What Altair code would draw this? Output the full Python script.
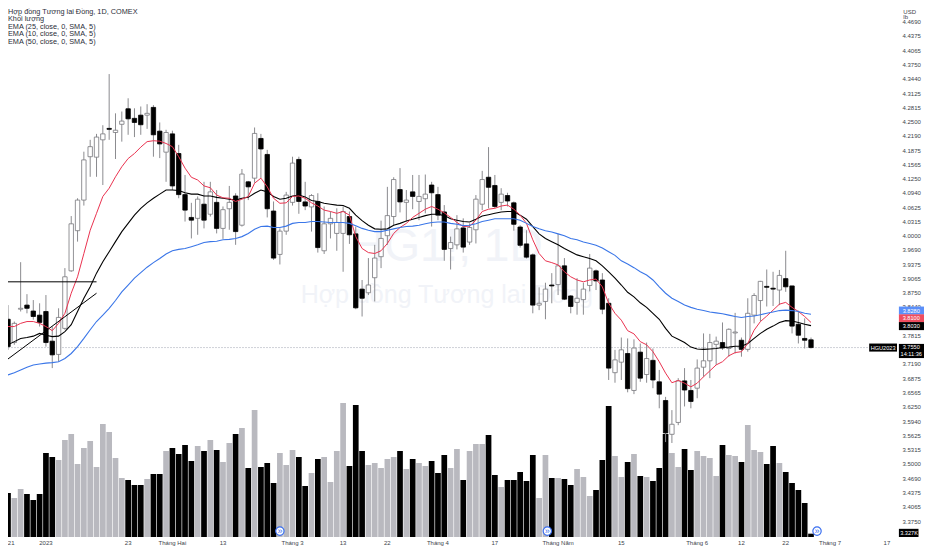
import altair as alt
import pandas as pd

# --- Candles (USD/lb), one entry per session ---
open_ = [3.806,3.817,3.766,3.839,3.848,3.835,3.826,3.834,3.769,3.740,3.797,3.923,4.011,4.078,4.173,4.172,4.210,4.235,4.226,4.244,
4.278,4.257,4.264,4.264,4.281,4.229,4.183,4.223,4.180,4.090,4.040,4.038,4.069,4.047,4.073,4.016,4.059,4.087,4.023,4.118,
4.126,4.213,4.178,4.054,3.959,4.010,4.073,4.167,4.074,4.063,4.075,3.967,4.026,4.005,4.005,4.042,4.004,3.883,3.875,3.908,
3.954,4.000,4.042,4.101,4.073,4.096,4.075,4.081,4.111,4.090,4.052,3.972,3.980,4.017,3.986,4.013,4.069,4.128,4.110,4.073,
4.088,4.072,4.019,3.982,3.958,3.848,3.856,3.892,3.893,3.934,3.868,3.854,3.860,3.891,3.923,3.903,3.852,3.700,3.723,3.742,
3.661,3.745,3.696,3.727,3.680,3.639,3.565,3.591,3.682,3.661,3.666,3.712,3.726,3.762,3.766,3.753,3.787,3.771,3.751,3.826,
3.858,3.889,3.885,3.881,3.906,3.890,3.806,3.775,3.772]
high = [3.826,3.848,3.812,3.942,3.872,3.859,3.852,3.870,3.801,3.841,3.929,4.043,4.082,4.184,4.210,4.223,4.242,4.354,4.268,4.272,
4.301,4.279,4.283,4.288,4.286,4.248,4.232,4.230,4.199,4.133,4.072,4.086,4.118,4.118,4.100,4.064,4.109,4.093,4.146,4.120,
4.237,4.223,4.188,4.075,4.016,4.096,4.173,4.173,4.118,4.091,4.093,4.064,4.053,4.060,4.064,4.053,4.020,3.903,3.951,3.980,
4.033,4.107,4.128,4.148,4.100,4.133,4.133,4.134,4.118,4.107,4.067,3.998,4.045,4.038,4.027,4.089,4.142,4.194,4.133,4.104,
4.094,4.075,4.023,4.012,3.961,3.887,3.897,3.918,4.004,3.951,3.870,3.907,3.897,3.960,3.926,3.918,3.863,3.750,3.777,3.775,
3.773,3.764,3.766,3.753,3.706,3.647,3.618,3.688,3.710,3.684,3.729,3.786,3.785,3.779,3.810,3.797,3.831,3.777,3.863,3.874,
3.901,3.926,3.921,3.925,3.967,3.890,3.836,3.819,3.777]
low = [3.790,3.750,3.761,3.834,3.830,3.816,3.801,3.757,3.710,3.724,3.794,3.921,3.987,4.066,4.129,4.129,4.111,4.210,4.168,4.206,
4.221,4.216,4.221,4.234,4.173,4.170,4.118,4.100,4.082,4.031,3.994,4.002,4.016,4.042,4.005,3.993,4.013,3.980,4.020,4.078,
4.116,4.126,4.040,3.947,3.937,4.002,4.066,4.048,4.056,4.009,3.963,3.960,3.994,3.967,3.921,3.982,3.839,3.823,3.870,3.856,
3.929,3.980,4.023,4.051,4.031,4.058,4.034,4.049,4.020,4.034,3.945,3.926,3.970,3.963,3.980,3.983,4.056,4.060,4.060,4.056,
4.064,4.011,3.974,3.950,3.830,3.837,3.817,3.852,3.870,3.859,3.830,3.827,3.827,3.878,3.881,3.828,3.684,3.678,3.684,3.657,
3.653,3.680,3.678,3.666,3.622,3.548,3.546,3.585,3.626,3.622,3.644,3.691,3.688,3.717,3.750,3.735,3.742,3.735,3.746,3.808,
3.812,3.845,3.846,3.848,3.877,3.786,3.764,3.753,3.753]
close = [3.810,3.757,3.808,3.841,3.841,3.823,3.810,3.766,3.739,3.821,3.910,4.026,4.078,4.166,4.195,4.216,4.223,4.233,4.231,4.251,
4.256,4.248,4.243,4.268,4.221,4.201,4.226,4.109,4.090,4.056,4.034,4.080,4.034,4.096,4.016,4.057,4.073,4.009,4.135,4.107,
4.224,4.190,4.059,3.951,4.010,4.089,4.159,4.075,4.065,4.088,3.974,4.026,4.038,4.029,4.053,4.002,3.842,3.863,3.892,3.951,
3.994,4.044,4.123,4.074,4.078,4.086,4.086,4.091,4.094,4.045,3.970,3.985,4.015,3.975,4.018,4.080,4.123,4.106,4.064,4.091,
4.076,4.025,3.979,3.953,3.848,3.852,3.883,3.890,3.934,3.861,3.845,3.863,3.883,3.929,3.901,3.839,3.710,3.728,3.750,3.665,
3.754,3.688,3.731,3.684,3.653,3.568,3.587,3.682,3.662,3.637,3.710,3.726,3.766,3.769,3.754,3.795,3.789,3.751,3.830,3.869,
3.900,3.887,3.883,3.913,3.888,3.802,3.782,3.771,3.755]

# --- EMA series ---
ema10 = [3.804,3.801,3.801,3.808,3.812,3.812,3.808,3.801,3.792,3.808,3.830,3.874,3.910,3.961,4.012,4.049,4.086,4.104,4.129,4.151,
4.169,4.180,4.194,4.206,4.208,4.207,4.202,4.195,4.173,4.148,4.128,4.122,4.109,4.105,4.089,4.083,4.082,4.075,4.080,4.086,
4.115,4.126,4.107,4.082,4.071,4.072,4.086,4.087,4.082,4.072,4.065,4.056,4.053,4.049,4.053,4.045,3.998,3.972,3.963,3.961,
3.967,3.983,4.005,4.018,4.027,4.040,4.049,4.058,4.064,4.058,4.050,4.040,4.029,4.020,4.021,4.034,4.053,4.058,4.060,4.065,
4.067,4.058,4.045,4.027,3.991,3.961,3.945,3.941,3.936,3.921,3.910,3.903,3.899,3.903,3.905,3.888,3.852,3.830,3.815,3.792,
3.785,3.768,3.761,3.746,3.724,3.699,3.678,3.683,3.677,3.669,3.677,3.691,3.704,3.717,3.724,3.737,3.744,3.746,3.764,3.793,
3.812,3.824,3.837,3.850,3.854,3.843,3.834,3.823,3.810]
ema25 = [3.758,3.761,3.768,3.775,3.777,3.780,3.786,3.782,3.779,3.780,3.790,3.805,3.834,3.863,3.888,3.918,3.943,3.965,3.987,4.009,
4.027,4.045,4.060,4.072,4.082,4.091,4.100,4.100,4.099,4.094,4.091,4.091,4.087,4.087,4.084,4.082,4.080,4.078,4.082,4.084,
4.093,4.100,4.096,4.086,4.080,4.082,4.087,4.089,4.085,4.077,4.075,4.071,4.069,4.067,4.066,4.060,4.045,4.033,4.023,4.015,
4.014,4.015,4.023,4.027,4.032,4.036,4.040,4.044,4.047,4.047,4.044,4.037,4.034,4.031,4.030,4.036,4.043,4.046,4.049,4.052,
4.053,4.053,4.045,4.036,4.020,4.004,3.994,3.987,3.980,3.972,3.965,3.958,3.954,3.950,3.945,3.934,3.921,3.907,3.892,3.876,
3.866,3.853,3.843,3.830,3.817,3.797,3.780,3.773,3.766,3.756,3.752,3.751,3.752,3.753,3.755,3.756,3.758,3.758,3.764,3.775,
3.786,3.795,3.802,3.810,3.814,3.813,3.810,3.806,3.803]
ema50 = [3.693,3.695,3.700,3.706,3.712,3.717,3.719,3.721,3.722,3.724,3.731,3.742,3.757,3.775,3.794,3.812,3.826,3.841,3.858,3.877,
3.892,3.907,3.919,3.931,3.941,3.950,3.960,3.967,3.970,3.972,3.976,3.980,3.985,3.987,3.988,3.991,3.992,3.994,3.998,4.005,
4.014,4.020,4.021,4.018,4.018,4.021,4.027,4.029,4.029,4.031,4.031,4.030,4.029,4.029,4.029,4.027,4.022,4.016,4.012,4.009,
4.009,4.012,4.015,4.018,4.020,4.021,4.023,4.026,4.029,4.030,4.030,4.027,4.025,4.022,4.023,4.026,4.031,4.034,4.037,4.037,
4.037,4.037,4.034,4.027,4.020,4.015,4.011,4.008,4.004,4.000,3.994,3.991,3.986,3.983,3.979,3.973,3.965,3.957,3.945,3.938,
3.930,3.921,3.914,3.903,3.888,3.874,3.863,3.856,3.848,3.843,3.839,3.836,3.833,3.831,3.829,3.826,3.823,3.821,3.823,3.824,
3.827,3.830,3.833,3.836,3.837,3.836,3.834,3.830,3.828]

# --- Volume (thousands) and whether the session closed down ---
volume = [40,44,39,48,43,37,43,84,80,77,97,103,73,89,96,70,113,105,79,59,57,52,52,58,63,63,86,89,83,92,76,91,86,97,87,75,94,103,109,69,
127,70,74,54,84,72,87,80,51,64,78,80,55,86,134,71,132,86,72,74,69,78,80,86,68,78,74,71,76,64,82,69,88,57,86,93,93,102,62,50,
57,57,65,56,82,39,82,59,59,58,52,68,60,41,47,77,131,81,60,75,83,61,60,56,69,103,84,70,88,67,86,81,79,61,92,82,81,75,112,87,
85,73,91,74,65,54,47,34,3.327]
vol_down = [0,1,0,0,1,1,1,1,1,0,0,0,0,0,0,0,0,0,0,0,1,1,1,0,1,1,0,1,1,1,1,0,1,0,1,0,0,1,0,1,
0,1,1,1,0,0,0,1,1,0,1,0,0,0,0,1,1,1,0,0,0,0,0,1,0,1,0,0,1,1,1,0,0,1,0,0,0,1,1,0,
1,1,1,1,1,0,0,1,0,1,1,0,0,0,1,1,1,0,0,1,0,1,0,1,1,1,0,0,1,1,0,0,0,0,1,0,0,1,0,0,
0,1,1,0,1,1,1,1,1]

# --- Axis labels ---
date_pos = [1.5,7,20,27,35,46,54,61,69,78,88,98,110,117,124,131,140]
date_txt = ["21","2023","23","Tháng Hai","13","Tháng 3","13","22","Tháng 4","17","Tháng Năm","15","Tháng 6","12","22","Tháng 7","17"]
price_ticks = [4.4690,4.4375,4.4065,4.3750,4.3440,4.3125,4.2815,4.2500,4.2190,4.1875,4.1565,4.1250,4.0940,4.0625,4.0315,4.0000,
3.9690,3.9375,3.9065,3.8750,3.8440,3.7815,3.7190,3.6875,3.6565,3.6250,3.5940,3.5625,3.5315,3.5000,3.4690,3.4375,3.4065,3.3750]

legend_lines = ["Hợp đồng Tương lai Đồng, 1D, COMEX","Khối lượng","EMA (25, close, 0, SMA, 5)","EMA (10, close, 0, SMA, 5)","EMA (50, close, 0, SMA, 5)"]

# Value tags on the price scale
tag_txt = ["3.8280","3.8100","3.8030"]
tag_pos = [3.836,3.819,3.802]
tag_col = ["#5b8ff9","#ef4d5f","#000000"]

# Drawn trend lines on the left
hline_x = [1,15]; hline_y = [3.899,3.899]
dline_x = [1,15]; dline_y = [3.730,3.874]

# Split markers
split_pos = [44,86.3,128.95]

FONT = "Liberation Sans"
XD = [1.0,145.87]
YD = [3.3401,4.4987]
n = len(close)

xs = alt.Scale(domain=XD, nice=False, zero=False, padding=0)
ys = alt.Scale(domain=YD, nice=False, zero=False)
X = alt.X("i:Q", scale=xs, axis=None)
yaxis = alt.Axis(values=price_ticks, orient="right", offset=-22, title=None, grid=False, domain=False, ticks=False,
                 format=".4f", labelFontSize=6, labelFont=FONT, labelColor="#3c3f4a", labelPadding=0,
                 labelAlign="left", labelOverlap=False, labelFlush=False, labelBound=False)

df = pd.DataFrame({"i": range(n), "o": open_, "h": high, "l": low, "c": close,
                   "e10": ema10, "e25": ema25, "e50": ema50, "v": volume})
df["top"] = df[["o", "c"]].max(axis=1)
df["bot"] = df[["o", "c"]].min(axis=1)
df["down"] = df["c"] < df["o"]
df["vk"] = ["k" if d else "g" for d in vol_down]


def Y(f, axis=None):
    return alt.Y(f + ":Q", scale=ys, axis=axis)


wm = pd.DataFrame({"i": [70.4, 70.4], "p": [3.975, 3.870], "t": ["HG1!, 1D", "Hợp đồng Tương lai Đồng"], "s": [46, 25]})
watermark = alt.Chart(wm).mark_text(font=FONT, color="#f1f3f8", baseline="middle", align="center").encode(
    x=X, y=Y("p"), text="t:N", size=alt.Size("s:Q", scale=None, legend=None))

vol = alt.Chart(df).mark_bar(size=5.7, clip=True).encode(
    x=X, y=alt.Y("v:Q", scale=alt.Scale(domain=[0, 529], nice=False), axis=None),
    color=alt.Color("vk:N", scale=alt.Scale(domain=["k", "g"], range=["#000000", "#b9b9bf"]), legend=None))

pl = pd.DataFrame({"i": [1, 137.2], "p": [3.755, 3.755]})
price_line = alt.Chart(pl).mark_line(color="#cfd2d8", strokeWidth=1, strokeDash=[2, 1]).encode(x=X, y=Y("p"))

wick = alt.Chart(df).mark_rule(color="#8b8b8f", strokeWidth=1, clip=True).encode(x=X, y=Y("l", yaxis), y2="h:Q")
body = alt.Chart(df).mark_bar(size=4.4, strokeWidth=0.8, clip=True).encode(
    x=X, y=Y("bot"), y2="top:Q",
    color=alt.Color("down:N", scale=alt.Scale(domain=[True, False], range=["#000000", "#ffffff"]), legend=None),
    stroke=alt.Stroke("down:N", scale=alt.Scale(domain=[True, False], range=["#000000", "#77777c"]), legend=None))

line25 = alt.Chart(df).mark_line(color="#000000", strokeWidth=1.1, clip=True).encode(x=X, y=Y("e25"))
line10 = alt.Chart(df).mark_line(color="#ea3350", strokeWidth=1, clip=True).encode(x=X, y=Y("e10"))
line50 = alt.Chart(df).mark_line(color="#3a76e8", strokeWidth=1.1, clip=True).encode(x=X, y=Y("e50"))
trend1 = alt.Chart(pd.DataFrame({"i": hline_x, "p": hline_y})).mark_line(color="#000000", strokeWidth=1).encode(x=X, y=Y("p"))
trend2 = alt.Chart(pd.DataFrame({"i": dline_x, "p": dline_y})).mark_line(color="#000000", strokeWidth=1).encode(x=X, y=Y("p"))

# Value tags
HALF = 0.0088
tags = pd.DataFrame({"i": [141.9] * 3, "i2": [145.87] * 3, "p": tag_pos,
                     "p0": [p - HALF for p in tag_pos], "p1": [p + HALF for p in tag_pos], "t": tag_txt, "col": tag_col})
tag_rect = alt.Chart(tags).mark_rect().encode(
    x=X, x2="i2:Q", y=Y("p0"), y2="p1:Q", color=alt.Color("col:N", scale=None, legend=None))
boxes = pd.DataFrame({"i": [137.2, 141.9, 141.9], "i2": [141.6, 145.87, 145.0],
                      "p0": [3.7462, 3.7320, 3.3401], "p1": [3.7638, 3.7630, 3.3580]})
box_rect = alt.Chart(boxes).mark_rect(color="#000000").encode(x=X, x2="i2:Q", y=Y("p0"), y2="p1:Q")
box_txt = pd.DataFrame({"i": [139.4, 143.85, 143.85, 143.5] + [143.85] * 3,
                        "p": [3.755, 3.7565, 3.7415, 3.3491] + tag_pos,
                        "t": ["HGU2023", "3.7550", "14:11:36", "3.327K"] + tag_txt})
tag_text = alt.Chart(box_txt).mark_text(font=FONT, fontSize=5.6, color="#ffffff", baseline="middle", align="center").encode(
    x=X, y=Y("p"), text="t:N")

# Split markers
sp = pd.DataFrame({"i": split_pos, "p": [3.353] * 3, "t": ["»"] * 3})
sp_dot = alt.Chart(sp).mark_point(shape="circle", filled=True, size=70, fill="#ffffff", stroke="#3a6ff0", strokeWidth=1.2, opacity=1).encode(x=X, y=Y("p"))
sp_txt = alt.Chart(sp).mark_text(font=FONT, fontSize=9, color="#3a6ff0", baseline="middle", align="center").encode(x=X, y=Y("p"), text="t:N")

# Date labels along the bottom
dates = pd.DataFrame({"i": date_pos, "t": date_txt})
date_labels = alt.Chart(dates).mark_text(font=FONT, fontSize=6, color="#3c3f4a", baseline="middle", align="center").encode(
    x=X, y=alt.value(535), text="t:N")

# Header text and unit labels
leg = pd.DataFrame({"i": [1.0] * 5, "p": [4.4900, 4.4736, 4.4572, 4.4408, 4.4243], "t": legend_lines})
legend = alt.Chart(leg).mark_text(font=FONT, fontSize=7.3, color="#2a2e39", align="left", baseline="middle").encode(x=X, y=Y("p"), text="t:N")
unit = pd.DataFrame({"i": [142.6, 142.6], "p": [4.4905, 4.4800], "t": ["USD", "lb"]})
units = alt.Chart(unit).mark_text(font=FONT, fontSize=6, color="#3c3f4a", align="left", baseline="middle").encode(x=X, y=Y("p"), text="t:N")

chart = alt.layer(
    watermark, vol, price_line, wick, body, line25, line10, line50, trend1, trend2,
    tag_rect, box_rect, tag_text, sp_dot, sp_txt, date_labels, legend, units
).resolve_scale(y="independent", color="independent", stroke="independent").properties(
    width=916, height=529,
    autosize=alt.AutoSizeParams(type="none"),
    padding={"left": 0, "top": 0, "right": 0, "bottom": 10},
).configure_view(stroke=None)

chart.save("out.html", embed_options={"renderer": "svg", "actions": False})
